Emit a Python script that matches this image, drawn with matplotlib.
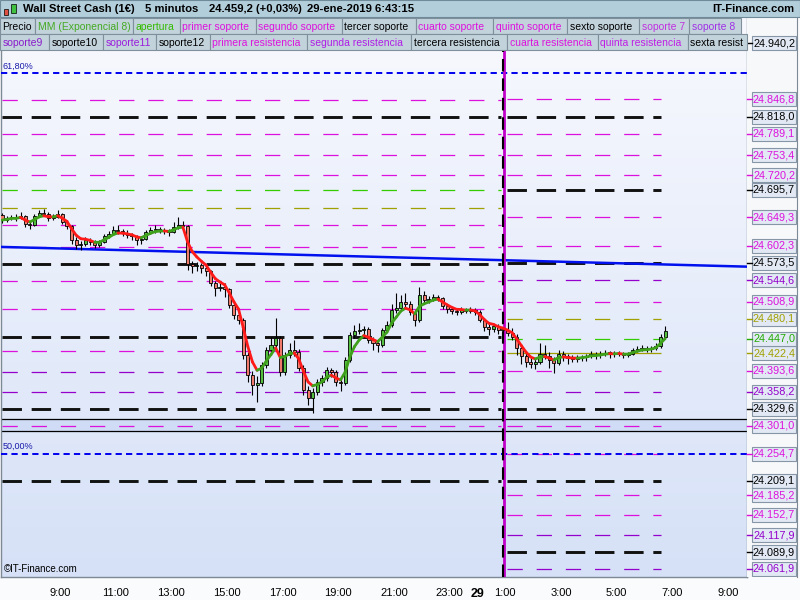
import numpy as np
import pandas as pd
import matplotlib
matplotlib.use('Agg')
import matplotlib.pyplot as plt
from matplotlib.patches import Rectangle
from matplotlib.collections import LineCollection
from matplotlib.colors import LinearSegmentedColormap

plt.rcParams['font.family'] = ['Liberation Sans', 'DejaVu Sans']
plt.rcParams['lines.scale_dashes'] = False

# ---- data -------------------------------------------------------------
# 10 minute bars, starting 28-ene 6:50 (x axis = hours from 28-ene 0:00)
bar_start = 6 + 50 / 60
bar_minutes = 10

opens = [24653, 24645, 24648, 24650, 24648, 24652, 24638, 24637, 24652, 24657,
         24655, 24648, 24650, 24655, 24642, 24635, 24612, 24603, 24605, 24612,
         24608, 24603, 24608, 24618, 24622, 24628, 24627, 24623, 24620, 24618,
         24612, 24613, 24625, 24628, 24630, 24628, 24627, 24625, 24633, 24637,
         24635, 24572, 24568, 24570, 24565, 24560, 24540, 24531, 24533, 24530,
         24503, 24486, 24478, 24420, 24386, 24369, 24373, 24403, 24428, 24436,
         24448, 24391, 24420, 24428, 24425, 24398, 24361, 24348, 24358, 24374,
         24381, 24394, 24391, 24374, 24373, 24411, 24453, 24460, 24461, 24463,
         24445, 24440, 24436, 24461, 24470, 24495, 24498, 24508, 24505, 24491,
         24478, 24520, 24511, 24513, 24516, 24515, 24501, 24496, 24493, 24491,
         24495, 24493, 24495, 24491, 24478, 24466, 24463, 24468, 24461, 24461,
         24456, 24450, 24431, 24418, 24408, 24404, 24408, 24421, 24418, 24411,
         24406, 24421, 24418, 24414, 24413, 24414, 24416, 24418, 24421, 24419,
         24421, 24423, 24423, 24421, 24423, 24419, 24421, 24428, 24429, 24431,
         24429, 24431, 24435, 24450]
highs = [24656, 24652, 24654, 24655, 24658, 24654, 24642, 24655, 24662, 24663,
         24658, 24655, 24662, 24657, 24645, 24637, 24616, 24610, 24617, 24615,
         24611, 24612, 24622, 24626, 24635, 24637, 24630, 24628, 24624, 24620,
         24618, 24628, 24634, 24637, 24634, 24632, 24630, 24641, 24650, 24643,
         24637, 24576, 24575, 24573, 24568, 24562, 24543, 24540, 24540, 24532,
         24508, 24492, 24481, 24425, 24392, 24385, 24408, 24433, 24450, 24481,
         24452, 24425, 24440, 24445, 24430, 24402, 24368, 24365, 24380, 24386,
         24400, 24398, 24395, 24380, 24416, 24458, 24470, 24473, 24468, 24466,
         24450, 24446, 24465, 24476, 24505, 24523, 24520, 24523, 24510, 24495,
         24533, 24526, 24518, 24522, 24520, 24517, 24505, 24500, 24497, 24499,
         24498, 24499, 24498, 24494, 24482, 24471, 24472, 24472, 24467, 24474,
         24464, 24455, 24436, 24424, 24414, 24412, 24440, 24436, 24424, 24416,
         24428, 24426, 24422, 24420, 24419, 24420, 24422, 24426, 24425, 24426,
         24428, 24427, 24426, 24427, 24425, 24425, 24432, 24434, 24436, 24434,
         24434, 24440, 24455, 24468]
lows = [24640, 24642, 24645, 24644, 24646, 24634, 24630, 24635, 24650, 24651,
        24644, 24645, 24648, 24638, 24630, 24605, 24596, 24595, 24602, 24604,
        24598, 24600, 24606, 24615, 24620, 24622, 24618, 24615, 24612, 24603,
        24605, 24611, 24622, 24624, 24623, 24621, 24618, 24623, 24630, 24630,
        24562, 24557, 24560, 24556, 24552, 24534, 24518, 24526, 24516, 24498,
        24480, 24472, 24412, 24375, 24352, 24341, 24368, 24398, 24420, 24430,
        24385, 24386, 24415, 24418, 24392, 24352, 24336, 24322, 24352, 24368,
        24376, 24383, 24368, 24360, 24370, 24408, 24448, 24455, 24452, 24440,
        24428, 24425, 24433, 24458, 24466, 24490, 24494, 24500, 24486, 24468,
        24475, 24506, 24507, 24510, 24509, 24497, 24490, 24488, 24486, 24488,
        24489, 24490, 24486, 24474, 24460, 24453, 24458, 24455, 24457, 24452,
        24444, 24420, 24405, 24399, 24398, 24396, 24404, 24412, 24398, 24389,
        24403, 24410, 24405, 24407, 24408, 24409, 24410, 24414, 24413, 24415,
        24417, 24415, 24416, 24418, 24414, 24416, 24419, 24424, 24426, 24424,
        24425, 24428, 24432, 24447]
closes = [24645, 24648, 24650, 24648, 24652, 24638, 24637, 24652, 24657, 24655,
          24648, 24650, 24655, 24642, 24635, 24612, 24603, 24605, 24612, 24608,
          24603, 24608, 24618, 24622, 24628, 24627, 24623, 24620, 24618, 24612,
          24613, 24625, 24628, 24630, 24628, 24627, 24625, 24633, 24637, 24635,
          24572, 24568, 24570, 24565, 24560, 24540, 24531, 24533, 24530, 24503,
          24486, 24478, 24420, 24386, 24369, 24373, 24403, 24428, 24436, 24448,
          24391, 24420, 24428, 24425, 24398, 24361, 24348, 24358, 24374, 24381,
          24394, 24391, 24374, 24373, 24411, 24453, 24460, 24461, 24463, 24445,
          24440, 24436, 24461, 24470, 24495, 24498, 24508, 24505, 24491, 24478,
          24520, 24511, 24513, 24516, 24515, 24501, 24496, 24493, 24491, 24495,
          24493, 24495, 24491, 24478, 24466, 24463, 24468, 24461, 24461, 24456,
          24450, 24431, 24418, 24408, 24404, 24408, 24421, 24418, 24411, 24406,
          24421, 24418, 24414, 24413, 24414, 24416, 24418, 24421, 24419, 24421,
          24423, 24423, 24421, 24423, 24419, 24421, 24428, 24429, 24431, 24429,
          24431, 24435, 24450, 24459]

# support / resistance levels of 28-ene (left) and 29-ene (right)
left_black = [24818.0, 24571.6, 24449.6, 24329.6, 24209.1]
left_magenta = [24845.6, 24788.8, 24753.7, 24720.3, 24636.7, 24600.8,
                24543.1, 24496.3, 24426.2, 24300.8]
left_purple = [24391.1, 24357.6]
left_green = [24695.2]
left_olive = [24665.1]

right_black = [24940.2, 24818.0, 24695.7, 24573.5, 24329.6, 24209.1, 24089.9]
right_magenta = [24846.8, 24789.1, 24753.4, 24720.2, 24649.3, 24602.3,
                 24508.9, 24393.6, 24301.0, 24254.7, 24185.2, 24152.7]
right_purple = [24544.6, 24358.2, 24117.9, 24061.9]
right_olive = [24480.1]
right_open = [24422.4]
right_green = [24447.0]

fib_levels = [24891.0, 24254.7]
fib_labels = ['61,80%', '50,00%']
band = (24292.5, 24312.5)
trend_pts = [(7.0, 24600.0), (33.0, 24568.0)]
day_change = 24.95

tick_hours = [9, 11, 13, 15, 17, 19, 21, 23, 24, 25, 27, 29, 31, 33]
tick_labels = ['9:00', '11:00', '13:00', '15:00', '17:00', '19:00', '21:00',
               '23:00', '29', '1:00', '3:00', '5:00', '7:00', '9:00']

title_parts = ['Wall Street Cash (1€)', '5 minutos', '24.459,2 (+0,03%)',
               '29-ene-2019 6:43:15']
legend_row1 = ['Precio', 'MM (Exponencial 8)', 'apertura', 'primer soporte',
               'segundo soporte', 'tercer soporte', 'cuarto soporte',
               'quinto soporte', 'sexto soporte', 'soporte 7', 'soporte 8']
legend_row2 = ['soporte9', 'soporte10', 'soporte11', 'soporte12',
               'primera resistencia', 'segunda resistencia',
               'tercera resistencia', 'cuarta resistencia',
               'quinta resistencia', 'sexta resist']

# ---- colours ----------------------------------------------------------
MAG = '#dd11dd'
PUR = '#9400cc'
OLI = '#a0a000'
GRN = '#33cc00'
BLK = '#111111'

W, H = 800, 600
def fx(px):
    return px / W
def fy(py):
    return 1 - py / H

YLIM = (24048.5, 24982.7)
XLIM = (6.88, 33.69)

fig = plt.figure(figsize=(8, 6), dpi=100)
fig.patch.set_facecolor('#fafbfc')

ax = fig.add_axes([fx(1), fy(577), 746 / W, 559 / H])
ax.set_xlim(*XLIM)
ax.set_ylim(*YLIM)

grad = LinearSegmentedColormap.from_list('bg', ['#d6e1f7', '#f8f9fe'])
ax.imshow(np.linspace(0, 1, 200).reshape(-1, 1), cmap=grad, origin='lower',
          extent=[*XLIM, *YLIM], aspect='auto', zorder=0)

ax.axhspan(band[0], band[1], color='#d0dbf5', zorder=1)
for b in band:
    ax.axhline(b, color='black', lw=0.9, zorder=2)

left_x = (6.9, 24.85)
right_x = (25.08, 30.6)
thin = (11, 10)
thick = (14, 7)

def levels(vals, xr, color, lw, dash):
    ax.hlines(vals, xr[0], xr[1], colors=color, linewidth=lw,
              linestyles=[(0, dash)] if dash else 'solid', zorder=3)

levels(left_magenta, left_x, MAG, 0.9, thin)
levels(left_purple, left_x, PUR, 0.9, thin)
levels(left_green, left_x, GRN, 0.9, thin)
levels(left_olive, left_x, OLI, 0.9, thin)
levels(left_black, left_x, BLK, 2.1, thick)

levels(right_magenta, right_x, MAG, 0.9, thin)
levels(right_purple, right_x, PUR, 0.9, thin)
levels(right_green, right_x, GRN, 0.9, thin)
levels(right_olive, right_x, OLI, 0.9, thin)
levels(right_open, right_x, OLI, 0.9, None)
levels(right_black, right_x, BLK, 2.1, thick)

# fibonacci lines
for lv, lab in zip(fib_levels, fib_labels):
    ax.axhline(lv, color='#0000ee', lw=1.4, linestyle=(0, (4.5, 3)), zorder=4)
    ax.text(XLIM[0] + 0.06, lv + 4, lab, color='#1a1aaa', fontsize=6.5,
            va='bottom', ha='left', zorder=9)

# trend line
ax.axline(trend_pts[0], trend_pts[1], color='#0010ee', lw=1.8, zorder=4)

# day separator
ax.axvline(day_change, color='#c000c8', lw=2.0, zorder=4)
ax.axvline(day_change - 0.03, color='black', lw=1.5,
           linestyle=(0, (9, 5)), zorder=4)

# candles
o = np.array(opens, float)
h = np.array(highs, float)
l = np.array(lows, float)
c = np.array(closes, float)
t = bar_start + (np.arange(len(c)) + 0.5) * bar_minutes / 60
up = c >= o
ax.vlines(t, l, h, color='black', lw=0.8, zorder=5)
ax.bar(t, np.maximum(np.abs(c - o), 1.2), bottom=np.minimum(o, c), width=0.11,
       color=np.where(up, '#55c040', '#f07a6c'), edgecolor='black',
       linewidth=0.6, zorder=6)

# exponential moving average (8 x 5 min -> span 4 on 10 min bars)
ema = pd.Series(c).ewm(span=4, adjust=False).mean().to_numpy()
segs = [[(t[i], ema[i]), (t[i + 1], ema[i + 1])] for i in range(len(t) - 1)]
cols = ['#3fa01c' if ema[i + 1] >= ema[i] else '#ff1a1a' for i in range(len(t) - 1)]
ax.add_collection(LineCollection(segs, colors=cols, linewidths=2.0, zorder=7,
                                 capstyle='round'))

# axis styling
ax.set_yticks([])
ax.set_xticks(tick_hours)
ax.set_xticklabels(tick_labels, fontsize=8)
for lab in ax.get_xticklabels():
    if lab.get_text() == '29':
        lab.set_fontweight('bold')
        lab.set_fontsize(9)
ax.tick_params(axis='x', length=0, pad=8)
for s in ax.spines.values():
    s.set_color('#7d8a96')
    s.set_linewidth(1)
ax.spines['top'].set_visible(False)

ax.text(0.004, 0.005, '©IT-Finance.com', transform=ax.transAxes, fontsize=7,
        va='bottom', ha='left', zorder=9)

# right price panel
axr = fig.add_axes([fx(747), fy(577), 50 / W, 559 / H])
axr.set_xlim(0, 50)
axr.set_ylim(*YLIM)
axr.set_facecolor('#f7f8fa')
axr.set_xticks([])
axr.set_yticks([])
for s in axr.spines.values():
    s.set_visible(False)
axr.spines['right'].set_visible(True)
axr.spines['right'].set_color('#7d8a96')

def price_tag(p, color):
    axr.plot([0, 5], [p, p], color=color, lw=1, clip_on=False)
    axr.add_patch(Rectangle((5, p - 11.7), 44, 23.4, facecolor='#e2e9f4',
                            edgecolor='#8696a6', lw=0.8))
    txt = f'{p:,.1f}'.replace(',', ' ').replace('.', ',').replace(' ', '.')
    axr.text(27, p, txt, color=color, fontsize=7.8, ha='center', va='center')

for group, col in [(right_black, 'black'), (right_magenta, MAG),
                   (right_purple, PUR), (right_olive, OLI),
                   (right_open, OLI), (right_green, '#22aa00')]:
    for p in group:
        price_tag(p, col)

# title bar
fig.add_artist(Rectangle((0, fy(17)), 1, 17 / H, transform=fig.transFigure,
                         facecolor='#b2cedb', edgecolor='#6f8b99', lw=0.8))
for xpx, s in zip([23, 145, 209, 307], title_parts):
    fig.text(fx(xpx), fy(9), s, fontsize=8.1, fontweight='bold', va='center')
fig.text(fx(794), fy(9), 'IT-Finance.com', fontsize=8.1, fontweight='bold',
         va='center', ha='right')
# little candle icon
fig.add_artist(Rectangle((fx(4), fy(15)), 4 / W, 6 / H, transform=fig.transFigure,
                         facecolor='#e05040', edgecolor='black', lw=0.5))
fig.add_artist(Rectangle((fx(11), fy(13)), 5 / W, 9 / H, transform=fig.transFigure,
                         facecolor='#40c040', edgecolor='black', lw=0.5))

# legend rows
row1_x = [0, 35, 133, 180, 256, 342, 416, 493, 567, 639, 689, 741]
row2_x = [0, 49, 103, 156, 210, 307, 411, 507, 598, 688, 747]
row1_c = ['black', '#44aa22', '#33bb00', MAG, MAG, 'black', MAG, MAG,
          'black', '#c030e0', '#a030e6']
row2_c = ['#8a1ccc', 'black', '#9a1cdc', 'black', MAG, '#b01ce6', 'black',
          MAG, '#c01ce6', 'black']

def legend_row(labels, xs, colors, top):
    for i, lab in enumerate(labels):
        x0, x1 = xs[i], xs[i + 1]
        fig.add_artist(Rectangle((fx(x0), fy(top + 16)), (x1 - x0) / W, 16 / H,
                                 transform=fig.transFigure, facecolor='#c3d3dc',
                                 edgecolor='#7f8f9b', lw=0.8))
        fig.text(fx(x0 + 2.5), fy(top + 8.5), lab, fontsize=7.5,
                 color=colors[i], va='center', ha='left')

legend_row(legend_row1, row1_x, row1_c, 18)
legend_row(legend_row2, row2_x, row2_c, 34)

fig.savefig('out.png', dpi=100)
